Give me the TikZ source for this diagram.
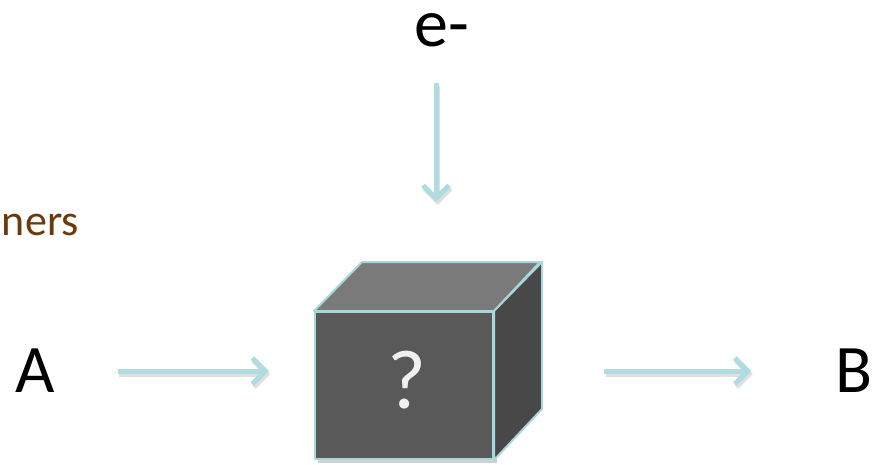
\documentclass[tikz,border=0pt]{standalone}
\usepackage{fontspec}
\setmainfont{Carlito}
\usetikzlibrary{arrows.meta}
\definecolor{flowcyan}{HTML}{B0DCE0}
\definecolor{edgecyan}{HTML}{A8D6DA}
\definecolor{frontgray}{HTML}{595959}
\definecolor{topgray}{HTML}{7A7A7A}
\definecolor{sidegray}{HTML}{484848}
\definecolor{brownish}{HTML}{6B3A0C}

\begin{document}
\begin{tikzpicture}[x=1pt, y=-1pt,
    flow/.style={line width=5pt, draw=flowcyan, -{Straight Barb[length=13pt, width=26pt, line width=5pt]},
      preaction={draw=black!12, line width=5pt, transform canvas={shift={(1.5pt,-3pt)}}}},
    big/.style={inner sep=0pt, font=\fontsize{68}{80}\selectfont},
    face/.style={draw=edgecyan, line width=2pt, line join=round}]
    \useasboundingbox (0,0) rectangle (882,464);

    % labels
    \node[big, anchor=base] (e) at (442,46) {e-};
    \node[inner sep=0pt, anchor=base east, text=brownish, font=\fontsize{44}{52}\selectfont] (others) at (79,235) {ners};
    \node[big] (A) at (35,371) {A};
    \node[big] (B) at (854,371) {B};

    % the black box
    \fill[black!18] (318,316) rectangle (497,463);
    \node[face, fill=frontgray, minimum width=178pt, minimum height=147pt, inner sep=0pt] (box) at (404,385.5) {};
    \draw[face, fill=topgray] (box.north west) -- ++(48,-49) -- ++(178,0) -- (box.north east) -- cycle;
    \draw[face, fill=sidegray] (box.north east) -- ++(48,-49) -- ++(0,147) -- (box.south east) -- cycle;
    \node[inner sep=0pt, text=white!94!black, font=\fontsize{84}{96}\selectfont] (q) at (407,380) {?};

    % arrows
    \draw[flow, shorten <=63pt, shorten >=45pt] (A.east) -- (A.east -| box.west);
    \draw[flow, shorten <=110pt, shorten >=84pt] (B.west -| box.east) -- (B.west);
    \draw[flow, shorten <=36pt, shorten >=109pt] ([xshift=-6pt]e.south) -- ([xshift=-6pt]e.south |- box.north);
\end{tikzpicture}
\end{document}
